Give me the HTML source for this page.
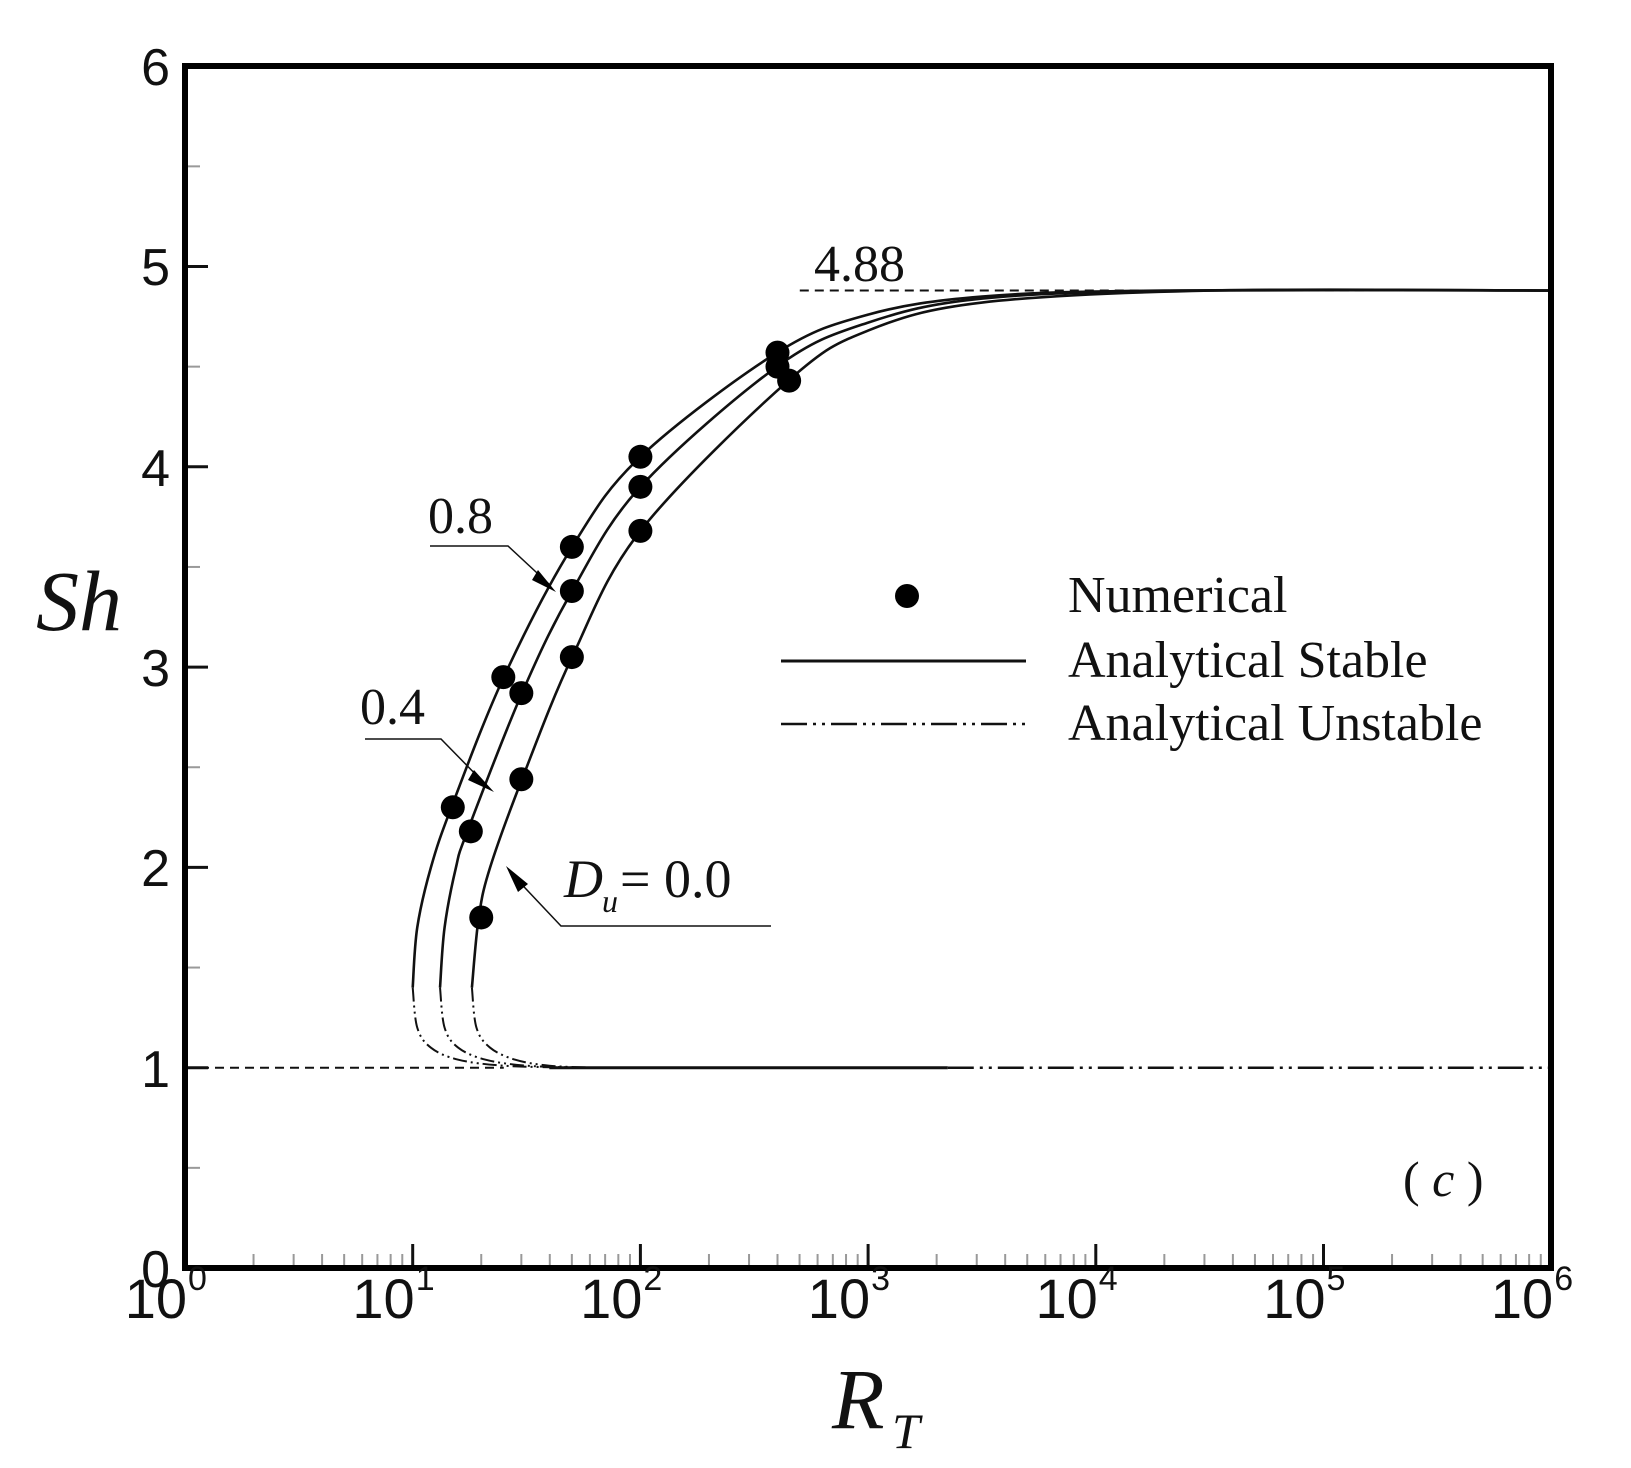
<!DOCTYPE html>
<html><head><meta charset="utf-8">
<style>
html,body{margin:0;padding:0;background:#fff;}
svg{display:block;}
.tl{font-family:"Liberation Sans",Arial,sans-serif;font-size:52px;fill:#111;}
.sr{font-family:"Liberation Serif","Times New Roman",serif;fill:#111;}
</style></head>
<body>
<svg id="s" width="1631" height="1468" viewBox="0 0 1631 1468" xmlns="http://www.w3.org/2000/svg">
<g id="ticks"></g>
<g id="curves" fill="none" stroke="#111" stroke-width="2.6"></g>
<g id="pts" fill="#000"></g>
<rect x="185" y="66" width="1366" height="1202" fill="none" stroke="#000" stroke-width="6"/>
<g class="tl" text-anchor="end">
<text x="170" y="85">6</text>
<text x="170" y="285">5</text>
<text x="170" y="486">4</text>
<text x="170" y="686">3</text>
<text x="170" y="886">2</text>
<text x="170" y="1087">1</text>
<text x="170" y="1287">0</text>
</g>
<g id="xl" class="tl"></g>
<text class="sr" x="36" y="630" font-size="86" font-style="italic">Sh</text>
<text class="sr" x="832" y="1428" font-size="86" font-style="italic">R</text>
<text class="sr" x="892" y="1448" font-size="50" font-style="italic">T</text>
<circle cx="907" cy="596" r="12" fill="#000"/>
<text class="sr" x="1068" y="612" font-size="52">Numerical</text>
<line x1="781" y1="661" x2="1026" y2="661" stroke="#111" stroke-width="3"/>
<text class="sr" x="1068" y="677" font-size="52">Analytical Stable</text>
<line x1="781" y1="724" x2="1026" y2="724" stroke="#111" stroke-width="2.5" stroke-dasharray="26,6,3,6,3,6"/>
<text class="sr" x="1068" y="740" font-size="52">Analytical Unstable</text>
<text class="sr" x="814" y="281" font-size="52">4.88</text>
<text class="sr" x="428" y="533" font-size="52">0.8</text>
<polyline points="430,546 508,546 550,585" fill="none" stroke="#111" stroke-width="1.5"/>
<polygon points="538,570 556,592 532,580" fill="#000"/>
<text class="sr" x="360" y="724" font-size="52">0.4</text>
<polyline points="365,739 441,739 488,787" fill="none" stroke="#111" stroke-width="1.5"/>
<polygon points="474,770 494,792 468,780" fill="#000"/>
<text class="sr" x="564" y="897" font-size="54" font-style="italic">D</text>
<text class="sr" x="602" y="912" font-size="32" font-style="italic">u</text>
<text class="sr" x="620" y="897" font-size="54">= 0.0</text>
<polyline points="771,926 561,926 510,872" fill="none" stroke="#111" stroke-width="1.5"/>
<polygon points="506,866 528,884 518,892" fill="#000"/>
<text class="sr" x="1403" y="1196" font-size="50">(<tspan font-style="italic"> c </tspan>)</text>
</svg>
<script>
var NS="http://www.w3.org/2000/svg";
function X(l){return 185+227.7*l;}
function Y(s){return 1268-200.3*s;}
function el(p,t,a){var e=document.createElementNS(NS,t);for(var k in a)e.setAttribute(k,a[k]);document.getElementById(p).appendChild(e);return e;}
for(var d=0;d<6;d++){for(var m=2;m<=9;m++){var x=X(d+Math.log10(m));el("ticks","line",{x1:x,x2:x,y1:1268,y2:1254,stroke:"#999","stroke-width":2});}}
for(var d=1;d<6;d++){var x=X(d);el("ticks","line",{x1:x,x2:x,y1:1268,y2:1244,stroke:"#111","stroke-width":3});}
for(var s=0.5;s<6;s+=1){el("ticks","line",{x1:185,x2:200,y1:Y(s),y2:Y(s),stroke:"#999","stroke-width":2});}
for(var s=1;s<6;s++){el("ticks","line",{x1:185,x2:208,y1:Y(s),y2:Y(s),stroke:"#111","stroke-width":3});}
for(var d=0;d<=6;d++){var t=el("xl","text",{x:X(d)+2,y:1318,"text-anchor":"end","font-size":"56"});t.textContent="10";var e=el("xl","text",{x:X(d)+3,y:1290,"font-size":"34"});e.textContent=""+d;}
function path(pts){var P=pts.map(function(p){return [X(p[1]),Y(p[0])];});var d="M"+P[0][0]+","+P[0][1];
for(var i=0;i<P.length-1;i++){var p0=P[Math.max(i-1,0)],p1=P[i],p2=P[i+1],p3=P[Math.min(i+2,P.length-1)];
d+=" C"+(p1[0]+(p2[0]-p0[0])/6)+","+(p1[1]+(p2[1]-p0[1])/6)+" "+(p2[0]-(p3[0]-p1[0])/6)+","+(p2[1]-(p3[1]-p1[1])/6)+" "+p2[0]+","+p2[1];}return d;}
var stable=[
[[1.4,1.0],[1.7,1.02],[2.0,1.08],[2.3,1.17],[2.95,1.40],[3.6,1.70],[4.05,2.0],[4.57,2.6],[4.76,3.0],[4.85,3.5],[4.88,4.3],[4.88,6]],
[[1.4,1.12],[1.7,1.14],[2.0,1.19],[2.18,1.24],[2.87,1.48],[3.38,1.70],[3.9,2.0],[4.5,2.6],[4.72,3.0],[4.84,3.5],[4.88,4.4],[4.88,6]],
[[1.4,1.26],[1.75,1.29],[2.0,1.34],[2.44,1.48],[3.05,1.70],[3.68,2.0],[4.43,2.65],[4.68,3.0],[4.82,3.5],[4.88,4.5],[4.88,6]]];
stable.forEach(function(c){el("curves","path",{d:path(c)});});
var unst=[
[[1.4,1.0],[1.2,1.02],[1.1,1.08],[1.04,1.2],[1.01,1.4],[1.0,1.7]],
[[1.4,1.12],[1.2,1.14],[1.1,1.2],[1.04,1.32],[1.01,1.5],[1.0,1.75]],
[[1.4,1.26],[1.2,1.28],[1.1,1.34],[1.04,1.45],[1.01,1.6],[1.0,1.8]]];
unst.forEach(function(c){el("curves","path",{d:path(c),"stroke-dasharray":"14,4,2,4,2,4","stroke-width":2});});
el("curves","line",{x1:X(1.6),x2:X(3.35),y1:Y(1),y2:Y(1),"stroke-width":3});
el("curves","line",{x1:X(3.35),x2:1551,y1:Y(1),y2:Y(1),"stroke-dasharray":"26,6,3,6,3,6","stroke-width":2.5});
el("curves","line",{x1:185,x2:X(1.4),y1:Y(1),y2:Y(1),"stroke-dasharray":"9,6","stroke-width":2});
el("curves","line",{x1:X(2.7),x2:1551,y1:Y(4.88),y2:Y(4.88),"stroke-dasharray":"9,6","stroke-width":2});
var pts=[[15,2.3],[25,2.95],[50,3.6],[100,4.05],[400,4.57],[18,2.18],[30,2.87],[50,3.38],[100,3.9],[400,4.5],[20,1.75],[30,2.44],[50,3.05],[100,3.68],[450,4.43]];
pts.forEach(function(p){el("pts","circle",{cx:X(Math.log10(p[0])),cy:Y(p[1]),r:12});});
</script>
</body></html>
